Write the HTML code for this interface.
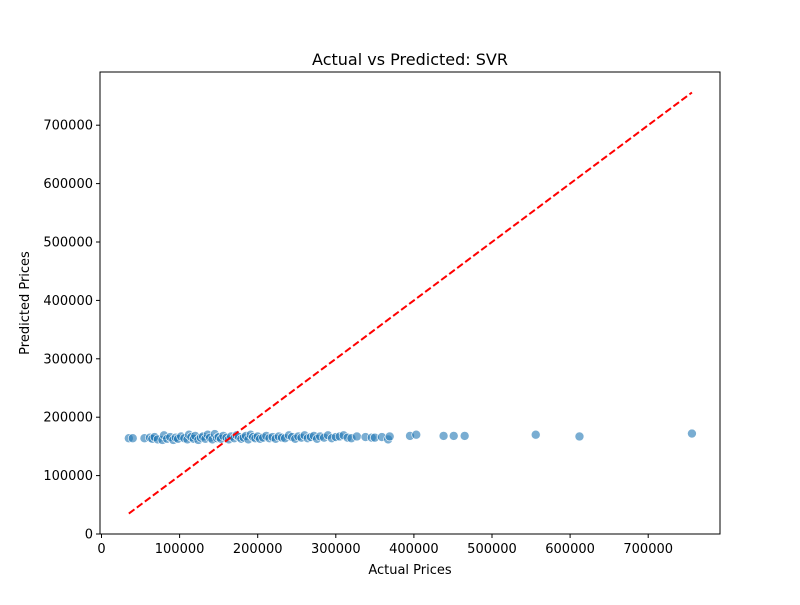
<!DOCTYPE html>
<html><head><meta charset="utf-8"><style>
body{margin:0;background:#fff;font-family:"Liberation Sans","DejaVu Sans",sans-serif}
svg text{font-family:"DejaVu Sans","Liberation Sans",sans-serif;fill:#000}
</style></head><body>
<svg id="chart" width="800" height="600">
<rect width="800" height="600" fill="#fff"/>
<text x="410" y="65" text-anchor="middle" font-size="16">Actual vs Predicted: SVR</text>
<g id="plot"></g>
<rect x="100" y="72" width="620" height="462" fill="none" stroke="#000" stroke-width="1"/>
<g id="xt"></g>
<g id="yt"></g>
<text x="410" y="574" text-anchor="middle" font-size="13">Actual Prices</text>
<text transform="translate(29,303) rotate(-90)" text-anchor="middle" font-size="13">Predicted Prices</text>
</svg>
<script>
const actual=[35000,40000,55000,62000,65000,68000,72000,78000,80000,84000,88000,92000,95000,98000,102000,106000,110000,112000,115000,118000,120000,124000,127000,130000,133000,136000,139000,142000,145000,148000,150000,153000,156000,160000,163000,166000,170000,173000,176000,179000,182000,185000,188000,191000,194000,197000,200000,203000,207000,211000,215000,219000,223000,227000,231000,235000,240000,244000,248000,252000,256000,260000,264000,268000,272000,276000,280000,285000,290000,295000,300000,305000,310000,315000,320000,327000,338000,346000,350000,359000,367000,369000,395000,403000,438000,451000,465000,556000,612000,756000];
const predicted=[164000,164000,164000,165000,163000,166000,162000,161000,169000,163000,166000,161000,165000,163000,167000,164000,162000,170000,166000,163000,168000,161000,165000,167000,163000,170000,165000,162000,171000,164000,166000,163000,168000,165000,162000,167000,164000,169000,166000,163000,165000,168000,162000,170000,166000,164000,167000,163000,165000,168000,164000,166000,163000,167000,165000,164000,169000,166000,163000,167000,165000,169000,164000,166000,168000,163000,167000,165000,169000,164000,166000,167000,169000,165000,164000,167000,166000,165000,165000,166000,162000,167000,168000,170000,168000,168000,168000,170000,167000,172000];
const xTicks=[0,100000,200000,300000,400000,500000,600000,700000];
const yTicks=[0,100000,200000,300000,400000,500000,600000,700000];
const lineEnds=[35000,756000];
const NS="http://www.w3.org/2000/svg";
function X(v){return 101.5+v*0.000781;}
function Y(v){return 534-v*0.000584;}
const plot=document.getElementById('plot');
for(let i=0;i<actual.length;i++){
 const c=document.createElementNS(NS,'circle');
 c.setAttribute('cx',X(actual[i]));c.setAttribute('cy',Y(predicted[i]));c.setAttribute('r',4.5);
 c.setAttribute('fill','#1f77b4');c.setAttribute('fill-opacity','0.6');c.setAttribute('stroke','#fff');c.setAttribute('stroke-width','0.6');
 
 
 plot.appendChild(c);
}
const ln=document.createElementNS(NS,'line');
ln.setAttribute('x1',X(lineEnds[0]));ln.setAttribute('y1',Y(lineEnds[0]));ln.setAttribute('x2',X(lineEnds[1]));ln.setAttribute('y2',Y(lineEnds[1]));
ln.setAttribute('stroke','red');ln.setAttribute('stroke-width','2');ln.setAttribute('stroke-dasharray','7,3');


plot.appendChild(ln);
const xt=document.getElementById('xt');
xTicks.forEach(v=>{
 const t=document.createElementNS(NS,'line');t.setAttribute('x1',X(v));t.setAttribute('x2',X(v));t.setAttribute('y1',534);t.setAttribute('y2',538);t.setAttribute('stroke','#000');
 
 
 xt.appendChild(t);
 const s=document.createElementNS(NS,'text');s.setAttribute('x',X(v));s.setAttribute('y',553);s.setAttribute('text-anchor','middle');s.setAttribute('font-size','13');s.textContent=v;
 
 
 xt.appendChild(s);
});
const yt=document.getElementById('yt');
yTicks.forEach(v=>{
 const t=document.createElementNS(NS,'line');t.setAttribute('x1',96);t.setAttribute('x2',100);t.setAttribute('y1',Y(v));t.setAttribute('y2',Y(v));t.setAttribute('stroke','#000');
 
 
 yt.appendChild(t);
 const s=document.createElementNS(NS,'text');s.setAttribute('x',93);s.setAttribute('y',Y(v)+4.5);s.setAttribute('text-anchor','end');s.setAttribute('font-size','13');s.textContent=v;
 
 
 yt.appendChild(s);
});
</script>
</body></html>
